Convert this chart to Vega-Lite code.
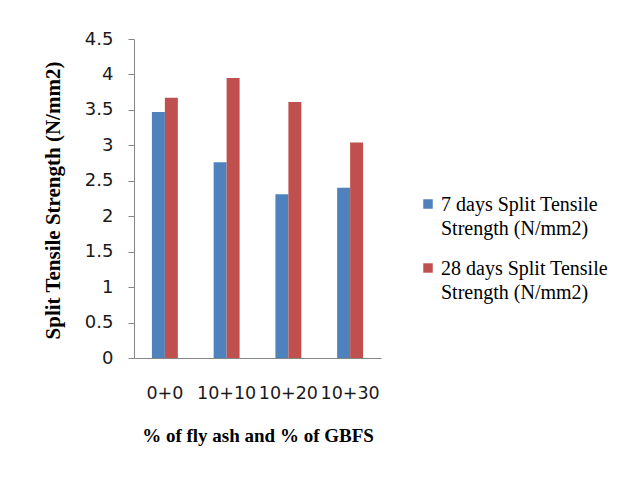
{
  "$schema": "https://vega.github.io/schema/vega-lite/v6.json",
  "width": 247,
  "height": 319,
  "autosize": {"type": "none"},
  "padding": {"left": 134, "top": 39, "right": 255, "bottom": 119},
  "background": "white",
  "data": {
    "values": [
      {"group": "0+0", "series": "7 days Split Tensile Strength (N/mm2)", "value": 3.47},
      {"group": "0+0", "series": "28 days Split Tensile Strength (N/mm2)", "value": 3.67},
      {"group": "10+10", "series": "7 days Split Tensile Strength (N/mm2)", "value": 2.76},
      {"group": "10+10", "series": "28 days Split Tensile Strength (N/mm2)", "value": 3.95},
      {"group": "10+20", "series": "7 days Split Tensile Strength (N/mm2)", "value": 2.31},
      {"group": "10+20", "series": "28 days Split Tensile Strength (N/mm2)", "value": 3.61},
      {"group": "10+30", "series": "7 days Split Tensile Strength (N/mm2)", "value": 2.40},
      {"group": "10+30", "series": "28 days Split Tensile Strength (N/mm2)", "value": 3.04}
    ]
  },
  "mark": {"type": "bar"},
  "encoding": {
    "x": {
      "field": "group",
      "type": "nominal",
      "sort": ["0+0", "10+10", "10+20", "10+30"],
      "scale": {"paddingInner": 0.58, "paddingOuter": 0.29},
      "axis": {
        "title": "% of fly ash and % of GBFS",
        "titleFont": "Liberation Serif",
        "titleFontWeight": "bold",
        "titleFontSize": 19,
        "titleColor": "#000000",
        "titleY": 77,
        "titleBaseline": "middle",
        "ticks": false,
        "labelAngle": 0,
        "labelOverlap": false,
        "labelBaseline": "middle",
        "labelPadding": 35,
        "labelFont": "DejaVu Sans",
        "labelFontSize": 17.5,
        "labelColor": "#1a1a1a",
        "domainColor": "#868686",
        "domainWidth": 1
      }
    },
    "xOffset": {
      "field": "series",
      "type": "nominal",
      "sort": ["7 days Split Tensile Strength (N/mm2)", "28 days Split Tensile Strength (N/mm2)"],
      "scale": {"paddingInner": 0, "paddingOuter": 0}
    },
    "y": {
      "field": "value",
      "type": "quantitative",
      "scale": {"domain": [0, 4.5], "nice": false},
      "axis": {
        "values": [0, 0.5, 1, 1.5, 2, 2.5, 3, 3.5, 4, 4.5],
        "format": "~g",
        "grid": false,
        "tickSize": 6,
        "tickColor": "#868686",
        "domainColor": "#868686",
        "labelPadding": 15,
        "labelFont": "DejaVu Sans",
        "labelFontSize": 18,
        "labelColor": "#1a1a1a",
        "title": "Split Tensile Strength (N/mm2)",
        "titleFont": "Liberation Serif",
        "titleFontWeight": "bold",
        "titleFontSize": 21,
        "titleColor": "#000000",
        "titleX": -81,
        "titleY": 161,
        "titleAngle": -90,
        "titleAlign": "center",
        "titleBaseline": "middle"
      }
    },
    "color": {
      "field": "series",
      "type": "nominal",
      "sort": ["7 days Split Tensile Strength (N/mm2)", "28 days Split Tensile Strength (N/mm2)"],
      "scale": {"range": ["#4F81BD", "#C0504D"]},
      "legend": {
        "title": null,
        "orient": "none",
        "legendX": 284,
        "legendY": 155,
        "padding": 0,
        "symbolType": "square",
        "symbolSize": 90,
        "symbolStrokeWidth": 0,
        "labelFont": "Liberation Serif",
        "labelFontSize": 20,
        "labelColor": "#000000",
        "labelLimit": 400,
        "labelOffset": 3,
        "labelBaseline": "top",
        "rowPadding": 19,
        "labelExpr": "[slice(datum.label, 0, indexof(datum.label, ' Strength')), slice(datum.label, indexof(datum.label, ' Strength') + 1)]",
        "encode": {"labels": {"update": {"lineHeight": {"value": 24}, "dy": {"value": -9}}}}
      }
    }
  },
  "config": {
    "view": {"stroke": null}
  }
}
